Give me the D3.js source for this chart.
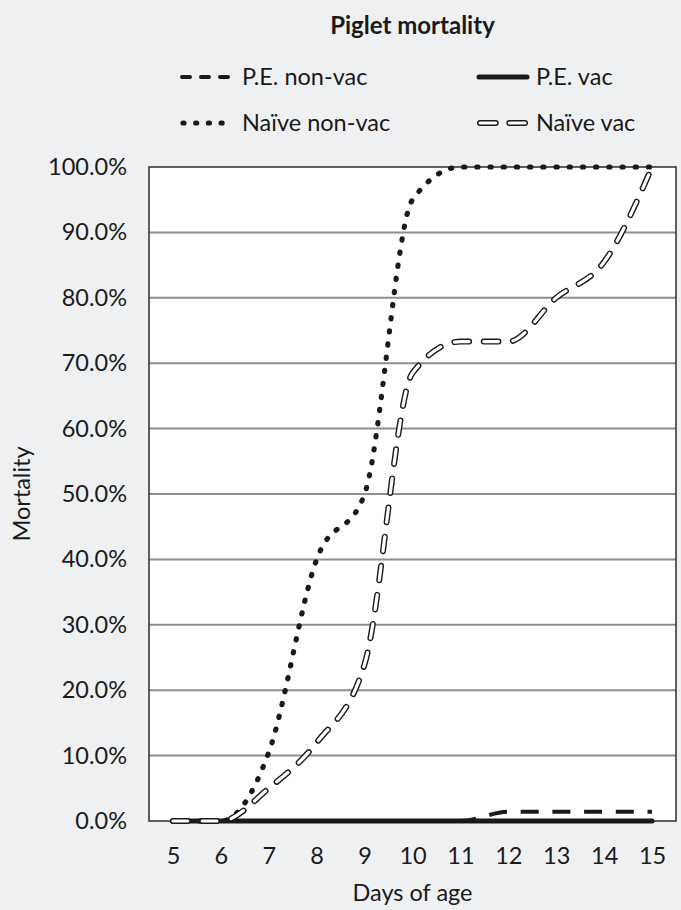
<!DOCTYPE html>
<html>
<head>
<meta charset="utf-8">
<script src="https://cdn.jsdelivr.net/npm/d3@7"></script>
<style>
  html, body { margin: 0; padding: 0; background: #eff0f2; }
  svg { display: block; font-family: Lato, "Open Sans", sans-serif; }
</style>
</head>
<body>
<div id="chart"></div>
<script>
// Data
const days = [5, 6, 7, 8, 9, 10, 11, 12, 13, 14, 15]
const peNonVac = [0, 0, 0, 0, 0, 0, 0, 1.4, 1.4, 1.4, 1.4]
const peVac = [0, 0, 0, 0, 0, 0, 0, 0, 0, 0, 0]
const naiveNonVac = [0, 0, 10.5, 40, 50, 95, 100, 100, 100, 100, 100]
const naiveVac = [0, 0, 5, 12, 24, 68.5, 73.3, 73.3, 80, 85.5, 100]
const yTicks = [0, 10, 20, 30, 40, 50, 60, 70, 80, 90, 100]

function draw() {
  // Dimensions
  let dimensions = {
    width: 681,
    height: 910,
    left: 149,
    right: 676,
    top: 167,
    bottom: 821,
  }
  const fontSize = 23.5

  const svg = d3.select('#chart')
    .append('svg')
    .attr('width', dimensions.width)
    .attr('height', dimensions.height)

  svg.append('rect')
    .attr('width', dimensions.width)
    .attr('height', dimensions.height)
    .attr('fill', '#eff0f2')

  // Scales
  const xScale = d3.scalePoint()
    .domain(days)
    .range([dimensions.left, dimensions.right])
    .padding(0.5)

  const yScale = d3.scaleLinear()
    .domain([0, 100])
    .range([dimensions.bottom, dimensions.top])

  // plot area
  svg.append('rect')
    .attr('x', dimensions.left)
    .attr('y', dimensions.top)
    .attr('width', dimensions.right - dimensions.left)
    .attr('height', dimensions.bottom - dimensions.top)
    .attr('fill', '#fff')

  // gridlines
  svg.append('g')
    .selectAll('line')
    .data(yTicks.filter(d => d > 0 && d < 100))
    .join('line')
    .attr('x1', dimensions.left)
    .attr('x2', dimensions.right)
    .attr('y1', d => yScale(d))
    .attr('y2', d => yScale(d))
    .attr('stroke', '#8e8e8e')
    .attr('stroke-width', 2)

  svg.append('rect')
    .attr('x', dimensions.left)
    .attr('y', dimensions.top)
    .attr('width', dimensions.right - dimensions.left)
    .attr('height', dimensions.bottom - dimensions.top)
    .attr('fill', 'none')
    .attr('stroke', '#2b2b2b')
    .attr('stroke-width', 1.5)

  // Axes
  const yAxis = d3.axisLeft(yScale)
    .tickValues(yTicks)
    .tickSize(0)
    .tickPadding(22)
    .tickFormat(d => d.toFixed(1) + '%')

  svg.append('g')
    .attr('transform', `translate(${dimensions.left}, 0)`)
    .call(yAxis)
    .call(g => g.select('.domain').remove())
    .selectAll('text')
    .attr('font-size', fontSize)
    .attr('font-family', 'Lato, sans-serif')
    .attr('fill', '#1a1a1a')

  const xAxis = d3.axisBottom(xScale)
    .tickSize(0)
    .tickPadding(26)

  svg.append('g')
    .attr('transform', `translate(0, ${dimensions.bottom})`)
    .call(xAxis)
    .call(g => g.select('.domain').remove())
    .selectAll('text')
    .attr('font-size', fontSize)
    .attr('font-family', 'Lato, sans-serif')
    .attr('fill', '#1a1a1a')

  svg.append('text')
    .attr('x', (dimensions.left + dimensions.right) / 2)
    .attr('y', 901)
    .attr('text-anchor', 'middle')
    .attr('font-size', fontSize)
    .attr('fill', '#1a1a1a')
    .text('Days of age')

  svg.append('text')
    .attr('transform', `translate(30, ${(dimensions.top + dimensions.bottom) / 2}) rotate(-90)`)
    .attr('text-anchor', 'middle')
    .attr('font-size', fontSize)
    .attr('fill', '#1a1a1a')
    .text('Mortality')

  svg.append('text')
    .attr('x', (dimensions.left + dimensions.right) / 2)
    .attr('y', 34)
    .attr('text-anchor', 'middle')
    .attr('font-size', 24)
    .attr('font-weight', 'bold')
    .attr('fill', '#1a1a1a')
    .text('Piglet mortality')

  // Lines
  const line = d3.line()
    .x((d, i) => xScale(days[i]))
    .y(d => yScale(d))
    .curve(d3.curveMonotoneX)

  const lines = svg.append('g').attr('fill', 'none')

  lines.append('path')
    .attr('d', line(peNonVac))
    .attr('stroke', '#1a1a1a')
    .attr('stroke-width', 4)
    .attr('stroke-dasharray', '18 13.7')

  lines.append('path')
    .attr('d', line(peVac))
    .attr('stroke', '#1a1a1a')
    .attr('stroke-width', 5)
    .attr('stroke-linecap', 'round')

  lines.append('path')
    .attr('d', line(naiveNonVac))
    .attr('stroke', '#1a1a1a')
    .attr('stroke-width', 5.2)
    .attr('stroke-linecap', 'round')
    .attr('stroke-dasharray', '1.2 12')

  // outlined dashes: black under, white on top
  lines.append('path')
    .attr('d', line(naiveVac))
    .attr('stroke', '#1a1a1a')
    .attr('stroke-width', 6)
    .attr('stroke-linecap', 'round')
    .attr('stroke-dasharray', '14.7 14.6')

  lines.append('path')
    .attr('d', line(naiveVac))
    .attr('stroke', '#fff')
    .attr('stroke-width', 3.2)
    .attr('stroke-linecap', 'round')
    .attr('stroke-dasharray', '14.7 14.6')

  // Legend
  const legendItems = [
    { name: 'P.E. non-vac', x: 180, y: 77, w: 52, type: 'dash' },
    { name: 'P.E. vac', x: 477, y: 77, w: 52, type: 'solid' },
    { name: 'Naïve non-vac', x: 180, y: 123, w: 47, type: 'dot' },
    { name: 'Naïve vac', x: 477, y: 123, w: 51, type: 'outline' },
  ]

  const legend = svg.append('g')
    .selectAll('g')
    .data(legendItems)
    .join('g')
    .attr('transform', d => `translate(${d.x}, ${d.y})`)

  legend.each(function (d) {
    const g = d3.select(this)
    const seg = g.append('line')
      .attr('x1', 0).attr('x2', d.w)
      .attr('stroke', '#1a1a1a')
    if (d.type === 'dash') {
      seg.attr('stroke-width', 4).attr('stroke-linecap', 'round')
        .attr('x1', 2).attr('x2', d.w - 2)
        .attr('stroke-dasharray', '8 11')
    } else if (d.type === 'solid') {
      seg.attr('stroke-width', 5).attr('stroke-linecap', 'round')
        .attr('x1', 2).attr('x2', d.w - 2)
    } else if (d.type === 'dot') {
      seg.attr('stroke-width', 5.2).attr('stroke-linecap', 'round')
        .attr('x1', 3).attr('stroke-dasharray', '1 11.7')
    } else {
      seg.attr('stroke-width', 6).attr('stroke-linecap', 'round')
        .attr('x1', 3).attr('x2', d.w - 3).attr('stroke-dasharray', '15.7 13.6')
      g.append('line')
        .attr('x1', 3).attr('x2', d.w - 3)
        .attr('stroke', '#fff')
        .attr('stroke-width', 3.2)
        .attr('stroke-linecap', 'round')
        .attr('stroke-dasharray', '15.7 13.6')
    }
    g.append('text')
      .attr('x', d.type === 'dash' || d.type === 'dot' ? 62 : 59)
      .attr('dy', '0.35em')
      .attr('font-size', fontSize)
      .attr('fill', '#1a1a1a')
      .text(d.name)
  })
}

draw()
</script>
</body>
</html>
